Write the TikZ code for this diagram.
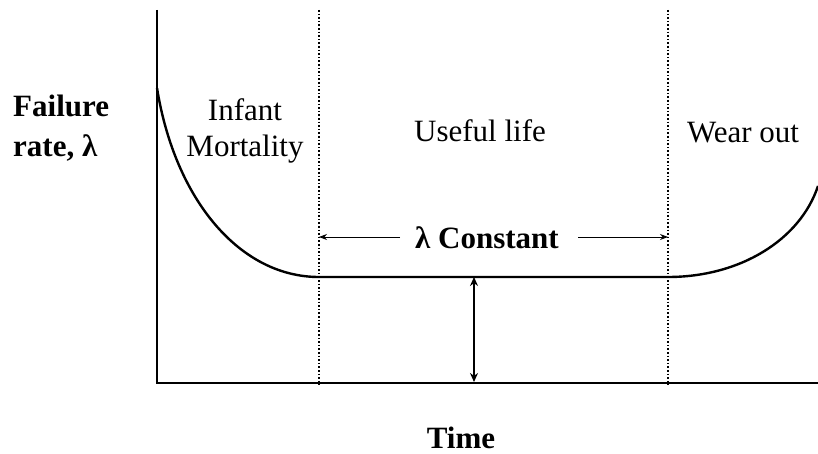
\documentclass[tikz,border=0pt]{standalone}
\usepackage{fontspec}
\setmainfont{Liberation Serif}
\usetikzlibrary{arrows.meta}
\begin{document}
\begin{tikzpicture}[x=1pt,y=-1pt,
  axisline/.style={line width=2pt},
  curveline/.style={line width=2.4pt},
  sep/.style={line width=1.6pt, dotted},
  dimarrow/.style={line width=0.9pt, -{Stealth[length=8pt,width=6pt]}},
  lbl/.style={font=\fontsize{31}{38}\selectfont, inner sep=0pt, anchor=base},
  blbl/.style={lbl, font=\fontsize{31}{38}\selectfont\bfseries}]
\useasboundingbox (0,0) rectangle (818,454);
% coordinates
\coordinate (ytop) at (157,10);
\coordinate (origin) at (157,383);
\coordinate (xend) at (818,383);
\coordinate (d1top) at (319,10);
\coordinate (d1bot) at (319,385);
\coordinate (d2top) at (668,10);
\coordinate (d2bot) at (668,385);
\coordinate (cstart) at (157,88);
\coordinate (f1) at (319,277);
\coordinate (f2) at (668,277);
\coordinate (cend) at (818,186);
\coordinate (vtop) at (474,277);
\coordinate (vbot) at (474,382);
\coordinate (al) at (319,237);
\coordinate (ar) at (668,237);
% axes
\draw[axisline] (ytop) -- (origin) -- (xend);
% dotted separators
\draw[sep] (d1top) -- (d1bot);
\draw[sep] (d2top) -- (d2bot);
% bathtub curve
\draw[curveline] (cstart) .. controls (175,200) and (240,277) .. (f1) -- (f2)
   .. controls (740,277) and (800,240) .. (cend);
% vertical double arrow
\draw[line width=1.4pt, {Stealth[length=9pt,width=8pt]}-{Stealth[length=9pt,width=8pt]}] (vtop) -- (vbot);
% labels
\node[blbl] (const) at (487,248) {λ Constant};
\coordinate (cl) at (400,237);
\coordinate (cr) at (578,237);
\draw[dimarrow] (cl) -- (al);
\draw[dimarrow] (cr) -- (ar);
\node[blbl, anchor=base west] (fail) at (13,117) {Failure};
\node[blbl, anchor=base west] (rate) at (13,157) {rate, λ};
\node[lbl] (inf) at (245,121) {Infant};
\node[lbl] (mort) at (245,157) {Mortality};
\node[lbl] (useful) at (480,142) {Useful life};
\node[lbl] (wear) at (743,143) {Wear out};
\node[blbl] (time) at (461,448) {Time};
\end{tikzpicture}
\end{document}
